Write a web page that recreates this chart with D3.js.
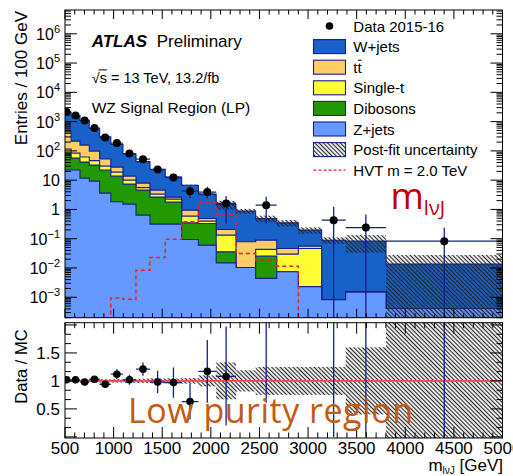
<!DOCTYPE html>
<html><head><meta charset="utf-8">
<script src="https://cdn.jsdelivr.net/npm/d3@7"></script>
<style>body{margin:0;background:#fff}svg{display:block}</style>
</head><body><svg id="c" width="513" height="476"></svg>
<script>
// Binning in m_lvJ [GeV] (variable width)
const binEdges = [470, 563, 654, 750, 856, 971, 1096, 1230, 1374, 1531, 1700, 1872, 2055, 2259, 2461, 2678, 2900, 3140, 3387, 3802, 5000];
// Entries / 100 GeV per process
const zjets     = [22.1, 22.1, 11.75, 9.28, 3.61, 1.82, 1.52, 0.639, 0.314, 0.314, 0.0943, 0.0602, 0.0149, 0.0104, 0.0044, 0.0074, 0.0023, 0.00083, 0.0015, 0.00041];
const dibosons  = [55.6, 34.6, 29.7, 23.4, 18.5, 11.9, 5.81, 3.93, 2.32, 1.46, 0.254, 0.272, 0.0206, 0, 0.0209, 0, 0, 0, 0, 0];
const singleTop = [37.5, 27.4, 20.0, 13.9, 8.1, 5.1, 2.71, 0.99, 0.71, 0.47, 0.242, 0.066, 0.0967, 0, 0.0178, 0.0222, 0.0441, 0, 0, 0];
const ttbar     = [324, 131, 96, 51.8, 22.3, 9.1, 3.7, 2.37, 1.23, 0.38, 0.356, 0.094, 0.075, 0.068, 0.046, 0.0168, 0.0092, 0, 0, 0];
const wjets     = [1639, 1362, 950, 486, 250, 137, 65.6, 35.1, 18.9, 10.1, 5.75, 2.84, 1.27, 0.80, 0.40, 0.30, 0.14, 0.088, 0.0815, 0.0131];
// Relative post-fit uncertainty of the total background
const bkgRelUnc = [0.02, 0.02, 0.02, 0.025, 0.03, 0.03, 0.035, 0.04, 0.045, 0.045, 0.05, 0.1, 0.33, 0.19, 0.25, 0.25, 0.25, 0.25, 0.6, 1.05];
// HVT signal, m = 2.0 TeV
const hvtSignal = [0, 0, 0, 0, 0, 0.00095, 0.00085, 0.0084, 0.0229, 0.0966, 0.377, 1.73, 0.69, 0.031, 0.0185, 0.0115, 0, 0, 0, 0];
// Data 2015-16
const dataVals  = [2120, 1610, 1086, 602, 285, 185, 81, 52, 23, 12.3, 4.2, 3.9, 1.6, 0, 1.4, 0, 0, 0.43, 0.24, 0.082];
const dataErrLo = [48, 42, 34, 24, 16, 12, 7.8, 6, 4, 2.7, 1.8, 1.5, 1.27, 0, 1.07, 0, 0, 0.43, 0.24, 0.082];
const dataErrHi = [48, 42, 34, 24, 16, 12, 7.8, 6, 4.5, 3.2, 2.6, 2.0, 1.25, 0, 1.3, 0, 0, 0.8, 0.43, 0.153];
// Data / MC
const ratioVals  = [1.02, 1.02, 0.98, 1.03, 0.94, 1.12, 1.02, 1.21, 0.98, 0.97, 0.63, 1.17, 1.08, null, 2.9, null, null, 4.8, 2.9, 6.1];
const ratioErrLo = [0.03, 0.03, 0.03, 0.04, 0.05, 0.09, 0.09, 0.12, 0.2, 0.27, 0.32, 0.56, 0.87, null, 2.29, null, null, 4.8, 2.9, 6.1];
const ratioErrHi = [0.03, 0.03, 0.03, 0.04, 0.05, 0.09, 0.09, 0.12, 0.2, 0.27, 0.32, 0.56, 0.89, null, 2.0, null, null, 9, 5, 11];
// Axis tick labels
const xTickLabels = [500, 1000, 1500, 2000, 2500, 3000, 3500, 4000, 4500, 5000];
const yDecades = [-3, -2, -1, 0, 1, 2, 3, 4, 5, 6];
const ratioTickLabels = [0.5, 1, 1.5];

const FONT = "'Liberation Sans', Arial, Helvetica, sans-serif";
const NAVY = "#14208c";
const L = 65, R = 502.5, T = 10, B = 317.7, RT = 322.7, RB = 438;

const svg = d3.select('#c').style('font-family', FONT);
const x = d3.scaleLinear().domain([500, 5000]).range([L, R]);
const y = d3.scaleLog().domain([2e-4, 6.5e6]).range([B, T]);
const yr = d3.scaleLinear().domain([-0.02, 2.04]).range([RB, RT]);
const yv = v => v > 0 ? y(v) : B + 60;

const defs = svg.append('defs');
const pat = defs.append('pattern').attr('id', 'hatch').attr('patternUnits', 'userSpaceOnUse')
  .attr('width', 3).attr('height', 3).attr('patternTransform', 'rotate(-45)');
pat.append('line').attr('x1', 1.5).attr('y1', -1).attr('x2', 1.5).attr('y2', 4)
  .attr('stroke', '#262626').attr('stroke-width', 1.2);
defs.append('clipPath').attr('id', 'clipMain').append('rect')
  .attr('x', L).attr('y', T).attr('width', R - L).attr('height', B - T);
defs.append('clipPath').attr('id', 'clipRatio').append('rect')
  .attr('x', L).attr('y', RT).attr('width', R - L).attr('height', RB - RT);

const nb = binEdges.length - 1;
const idx = d3.range(nb);
const centers = idx.map(i => (binEdges[i] + binEdges[i + 1]) / 2);

// ---- stacked backgrounds ----
const keys = ['zjets', 'dibosons', 'singleTop', 'ttbar', 'wjets'];
const colors = { zjets: '#6699ff', dibosons: '#229900', singleTop: '#ffff33', ttbar: '#ffcc66', wjets: '#1761c8' };
const rows = idx.map(i => ({ zjets: zjets[i], dibosons: dibosons[i], singleTop: singleTop[i], ttbar: ttbar[i], wjets: wjets[i] }));
const layers = d3.stack().keys(keys)(rows);
const total = idx.map(i => layers[layers.length - 1][i][1]);

function stepTop(vals) {
  let p = `M${x(binEdges[0])},${yv(vals[0])}`;
  for (let i = 0; i < nb; i++) {
    p += `V${yv(vals[i])}H${x(binEdges[i + 1])}`;
  }
  return p;
}
function stepArea(vals) {
  return stepTop(vals) + `V${B + 60}H${x(binEdges[0])}Z`;
}

const gMain = svg.append('g').attr('clip-path', 'url(#clipMain)');
for (let k = layers.length - 1; k >= 0; k--) {
  const cum = idx.map(i => layers[k][i][1]);
  gMain.append('path').attr('d', stepArea(cum))
    .attr('fill', colors[keys[k]]).attr('stroke', NAVY).attr('stroke-width', 1.1);
}

// post-fit uncertainty band
gMain.selectAll('rect.unc').data(idx).join('rect').attr('class', 'unc')
  .attr('x', i => x(binEdges[i])).attr('width', i => x(binEdges[i + 1]) - x(binEdges[i]))
  .attr('y', i => yv(total[i] * (1 + bkgRelUnc[i])))
  .attr('height', i => yv(total[i] * (1 - bkgRelUnc[i])) - yv(total[i] * (1 + bkgRelUnc[i])))
  .attr('fill', 'url(#hatch)');

// HVT signal
gMain.append('path').attr('d', stepTop(hvtSignal) + `V${B + 60}`)
  .attr('fill', 'none').attr('stroke', '#e8202a').attr('stroke-width', 1.5)
  .attr('stroke-dasharray', '4,3');

// data
const dIdx = idx.filter(i => dataVals[i] > 0);
const gData = gMain.append('g');
dIdx.forEach(i => {
  const cy = y(dataVals[i]);
  gData.append('line').attr('x1', x(binEdges[i])).attr('x2', x(binEdges[i + 1]))
    .attr('y1', cy).attr('y2', cy).attr('stroke', NAVY).attr('stroke-width', 1.3);
  gData.append('line').attr('x1', x(centers[i])).attr('x2', x(centers[i]))
    .attr('y1', yv(dataVals[i] + dataErrHi[i])).attr('y2', yv(dataVals[i] - dataErrLo[i]))
    .attr('stroke', NAVY).attr('stroke-width', 1.3);
});
gData.selectAll('circle').data(dIdx).join('circle')
  .attr('cx', i => x(centers[i])).attr('cy', i => y(dataVals[i])).attr('r', 4).attr('fill', '#000');

// ---- ratio panel ----
const gRatio = svg.append('g').attr('clip-path', 'url(#clipRatio)');
gRatio.selectAll('rect.unc').data(idx).join('rect').attr('class', 'unc')
  .attr('x', i => x(binEdges[i])).attr('width', i => x(binEdges[i + 1]) - x(binEdges[i]))
  .attr('y', i => yr(1 + bkgRelUnc[i])).attr('height', i => yr(1 - bkgRelUnc[i]) - yr(1 + bkgRelUnc[i]))
  .attr('fill', 'url(#hatch)');
gRatio.append('line').attr('x1', L).attr('x2', R).attr('y1', yr(1)).attr('y2', yr(1))
  .attr('stroke', '#f24a4a').attr('stroke-width', 1.6);
const rIdx = idx.filter(i => ratioVals[i] !== null);
rIdx.forEach(i => {
  const cy = yr(ratioVals[i]);
  gRatio.append('line').attr('x1', x(binEdges[i])).attr('x2', x(binEdges[i + 1]))
    .attr('y1', cy).attr('y2', cy).attr('stroke', NAVY).attr('stroke-width', 1.3);
  gRatio.append('line').attr('x1', x(centers[i])).attr('x2', x(centers[i]))
    .attr('y1', yr(ratioVals[i] + ratioErrHi[i])).attr('y2', yr(ratioVals[i] - ratioErrLo[i]))
    .attr('stroke', NAVY).attr('stroke-width', 1.3);
});
gRatio.selectAll('circle').data(rIdx.filter(i => ratioVals[i] < 2.04)).join('circle')
  .attr('cx', i => x(centers[i])).attr('cy', i => yr(ratioVals[i])).attr('r', 3.8).attr('fill', '#000');

// ---- frames and ticks ----
const axes = svg.append('g').attr('stroke', '#000').attr('stroke-width', 1);
[[T, B], [RT, RB]].forEach(([t, b]) => {
  axes.append('rect').attr('x', L).attr('y', t).attr('width', R - L).attr('height', b - t)
    .attr('fill', 'none');
});
function xTicks(t, b, maj, min) {
  d3.range(500, 5001, 100).forEach(v => {
    const len = v % 500 === 0 ? maj : min;
    const px = x(v);
    axes.append('line').attr('x1', px).attr('x2', px).attr('y1', b).attr('y2', b - len);
    axes.append('line').attr('x1', px).attr('x2', px).attr('y1', t).attr('y2', t + len);
  });
}
xTicks(T, B, 9, 4.5);
xTicks(RT, RB, 11, 5.5);
yDecades.forEach(d => {
  const base = Math.pow(10, d);
  [1, 2, 3, 4, 5, 6, 7, 8, 9].forEach(k => {
    const v = k * base;
    if (v < y.domain()[0] || v > y.domain()[1]) return;
    const py = y(v), len = k === 1 ? 12 : 6;
    axes.append('line').attr('x1', L).attr('x2', L + len).attr('y1', py).attr('y2', py);
    axes.append('line').attr('x1', R).attr('x2', R - len).attr('y1', py).attr('y2', py);
  });
});
[2, 3, 4, 5, 6, 7, 8, 9].forEach(k => {
  const v = k * 1e-4;
  if (v < y.domain()[0]) return;
  axes.append('line').attr('x1', L).attr('x2', L + 6).attr('y1', y(v)).attr('y2', y(v));
  axes.append('line').attr('x1', R).attr('x2', R - 6).attr('y1', y(v)).attr('y2', y(v));
});
d3.range(0, 13).forEach(k => {
  const v = k / 6, py = yr(v), len = k % 3 === 0 ? 12 : 6;
  axes.append('line').attr('x1', L).attr('x2', L + len).attr('y1', py).attr('y2', py);
  axes.append('line').attr('x1', R).attr('x2', R - len).attr('y1', py).attr('y2', py);
});

// tick labels
const txt = svg.append('g').attr('fill', '#000');
xTickLabels.forEach(v => {
  txt.append('text').attr('x', x(v)).attr('y', 454).attr('text-anchor', 'middle')
    .attr('font-size', 17).text(v);
});
yDecades.forEach(d => {
  const t = txt.append('text').attr('x', 60).attr('y', y(Math.pow(10, d)) + 6)
    .attr('text-anchor', 'end').attr('font-size', 16);
  if (d === 0) t.text('1');
  else if (d === 1) t.text('10');
  else {
    t.append('tspan').text('10');
    t.append('tspan').attr('font-size', 11).attr('dy', -7).text(d < 0 ? '\u2212' + (-d) : d);
  }
});
ratioTickLabels.forEach(v => {
  txt.append('text').attr('x', 60).attr('y', yr(v) + 6).attr('text-anchor', 'end')
    .attr('font-size', 17).text(v);
});

// axis titles
txt.append('text').attr('transform', 'translate(26.5,11) rotate(-90)').attr('text-anchor', 'end')
  .attr('font-size', 17).text('Entries / 100 GeV');
txt.append('text').attr('transform', 'translate(26.5,366.5) rotate(-90)').attr('text-anchor', 'middle')
  .attr('font-size', 16.5).text('Data / MC');
const xt = txt.append('text').attr('x', 503).attr('y', 471).attr('text-anchor', 'end').attr('font-size', 17);
xt.append('tspan').text('m');
xt.append('tspan').attr('font-size', 10).attr('dy', 3).text('l\u03bdJ');
xt.append('tspan').attr('dy', -3).text(' [GeV]');

// ATLAS labels
txt.append('text').attr('x', 91.7).attr('y', 47).attr('font-size', 17)
  .attr('font-weight', 'bold').attr('font-style', 'italic').text('ATLAS');
txt.append('text').attr('x', 156.7).attr('y', 47).attr('font-size', 17).text('Preliminary');
const sq = txt.append('text').attr('x', 91.7).attr('y', 82.5).attr('font-size', 14.5)
  .text('\u221as = 13 TeV, 13.2/fb');
{
  const n = sq.node();
  const s0 = n.getStartPositionOfChar(1), s1 = n.getEndPositionOfChar(1);
  const r0 = n.getStartPositionOfChar(0);
  txt.append('line').attr('x1', (r0.x + s0.x) / 2 + 3).attr('x2', s1.x).attr('y1', 82.5 - 12.6).attr('y2', 82.5 - 12.6)
    .attr('stroke', '#000').attr('stroke-width', 1);
}
txt.append('text').attr('x', 91.7).attr('y', 112.5).attr('font-size', 15.5).text('WZ Signal Region (LP)');

// legend
const legRows = [
  { label: 'Data 2015-16', type: 'data' },
  { label: 'W+jets', type: 'box', fill: colors.wjets },
  { label: 'tt', type: 'box', fill: colors.ttbar, bar: true },
  { label: 'Single-t', type: 'box', fill: colors.singleTop },
  { label: 'Dibosons', type: 'box', fill: colors.dibosons },
  { label: 'Z+jets', type: 'box', fill: colors.zjets },
  { label: 'Post-fit uncertainty', type: 'box', fill: 'url(#hatch)' },
  { label: 'HVT m = 2.0 TeV', type: 'dash' }
];
const leg = svg.append('g');
legRows.forEach((r, j) => {
  const cy = 26 + j * 20.6;
  if (r.type === 'data') {
    leg.append('circle').attr('cx', 329.5).attr('cy', cy).attr('r', 3.8).attr('fill', '#000');
  } else if (r.type === 'box') {
    leg.append('rect').attr('x', 313.5).attr('y', cy - 7).attr('width', 32).attr('height', 14)
      .attr('fill', r.fill).attr('stroke', NAVY).attr('stroke-width', 1.1);
  } else {
    leg.append('line').attr('x1', 313.5).attr('x2', 345.5).attr('y1', cy).attr('y2', cy)
      .attr('stroke', '#e8202a').attr('stroke-width', 1.3).attr('stroke-dasharray', '3,2');
  }
  const t = leg.append('text').attr('x', 353.3).attr('y', cy + 5.5).attr('font-size', 15).text(r.label);
  if (r.bar) {
    const n = t.node();
    const a = n.getStartPositionOfChar(1), b = n.getEndPositionOfChar(1);
    leg.append('line').attr('x1', a.x + 0.5).attr('x2', b.x).attr('y1', cy + 5.5 - 12.5).attr('y2', cy + 5.5 - 12.5)
      .attr('stroke', '#000').attr('stroke-width', 1);
  }
});

// annotations
const mt = svg.append('text').attr('x', 390.5).attr('y', 209).attr('fill', '#c00000')
  .style('font-family', "'Open Sans', sans-serif");
mt.append('tspan').attr('font-size', 36).text('m');
mt.append('tspan').attr('font-size', 20).attr('dy', 6).text('l\u03bdJ');
svg.append('text').attr('x', 128).attr('y', 423.3).attr('fill', '#c55a11')
  .style('font-family', "'Open Sans', sans-serif").attr('font-size', 34)
  .attr('textLength', 285).attr('lengthAdjust', 'spacing').text('Low purity region');
</script>
</body></html>
